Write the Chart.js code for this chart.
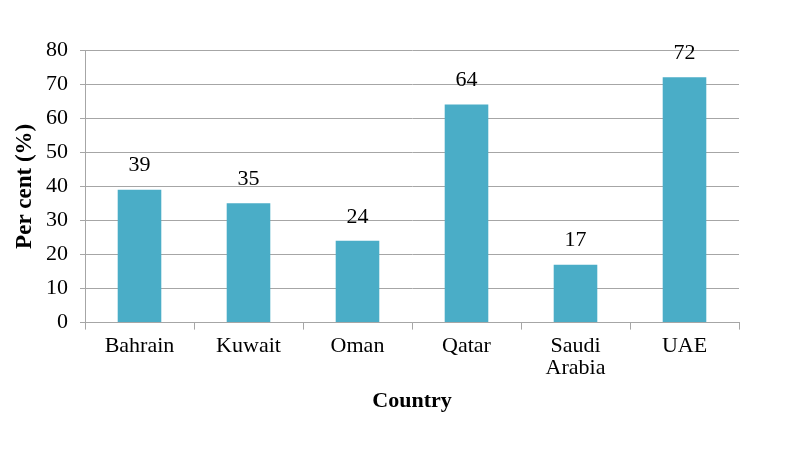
<!DOCTYPE html>
<html>
<head>
<meta charset="utf-8">
<script src="https://cdn.jsdelivr.net/npm/chart.js@4"></script>
<style>
	html, body { margin: 0; padding: 0; background: #fff; }
	#wrap { width: 800px; height: 450px; }
</style>
</head>
<body>
<div id="wrap"><canvas id="chart"></canvas></div>
<script>
// values
const countries = ['Bahrain', 'Kuwait', 'Oman', 'Qatar', ['Saudi', 'Arabia'], 'UAE'];
const perCent = [39, 35, 24, 64, 17, 72];
const yTicks = [0, 10, 20, 30, 40, 50, 60, 70, 80];

const serif = '"Liberation Serif", "Times New Roman", serif';
const gridColor = '#a6a6a6';

// writes the value above each bar
const barLabels = {
	id: 'barLabels',
	afterDatasetsDraw(chart) {
		const ctx = chart.ctx;
		const meta = chart.getDatasetMeta(0);
		ctx.save();
		ctx.font = '22px ' + serif;
		ctx.fillStyle = '#000';
		ctx.textAlign = 'center';
		ctx.textBaseline = 'middle';
		meta.data.forEach((bar, i) => {
			ctx.fillText(String(perCent[i]), bar.x, bar.y - 24);
		});
		ctx.restore();
	}
};

new Chart(document.getElementById('chart').getContext('2d'), {
	type: 'bar',
	data: {
		labels: countries,
		datasets: [{
			label: 'Per cent',
			data: perCent,
			backgroundColor: '#4aadc7',
			borderWidth: 0,
			barPercentage: 0.4,
			categoryPercentage: 1.0
		}]
	},
	options: {
		responsive: true,
		maintainAspectRatio: false,
		animation: false,
		layout: { padding: { top: 50, right: 61, bottom: 35, left: 0 } },
		plugins: {
			legend: { display: false },
			tooltip: { enabled: false }
		},
		scales: {
			x: {
				grid: {
					display: true,
					drawOnChartArea: false,
					drawTicks: true,
					tickLength: 7,
					color: gridColor,
					offset: true
				},
				border: { display: true, color: gridColor },
				ticks: {
					color: '#000',
					font: { family: serif, size: 22, lineHeight: 1.0 },
					padding: 6,
					maxRotation: 0
				},
				title: {
					display: true,
					text: 'Country',
					color: '#000',
					font: { family: serif, size: 22, weight: 'bold' },
					padding: { top: 3, bottom: 0 }
				}
			},
			y: {
				min: 0,
				max: 80,
				afterFit: s => { s.width = 85; },
				afterBuildTicks: s => { s.ticks = yTicks.map(v => ({ value: v })); },
				grid: {
					color: gridColor,
					drawTicks: true,
					tickLength: 5
				},
				border: { display: true, color: gridColor },
				ticks: {
					color: '#000',
					font: { family: serif, size: 22 },
					padding: 12
				},
				title: {
					display: true,
					text: 'Per cent (%)',
					color: '#000',
					font: { family: serif, size: 23, weight: 'bold' },
					padding: { top: 11, bottom: 4 }
				}
			}
		}
	},
	plugins: [barLabels]
});
</script>
</body>
</html>
